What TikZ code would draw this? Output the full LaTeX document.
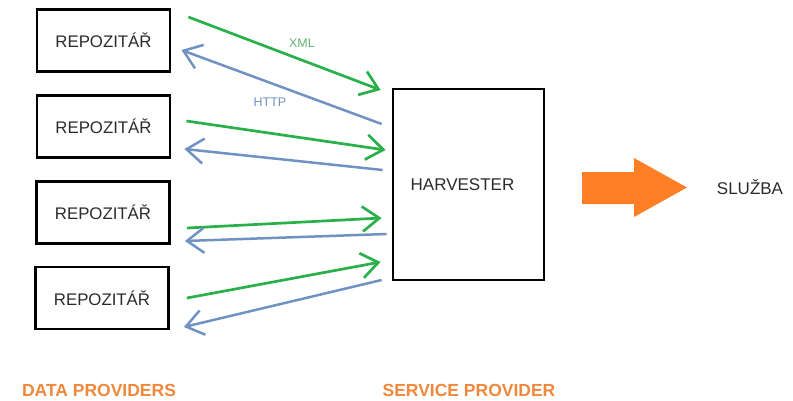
\documentclass[tikz,border=0pt]{standalone}
\usepackage{fontspec}
\setmainfont{Liberation Sans}
\usetikzlibrary{arrows.meta}
\definecolor{grn}{HTML}{2AB04A}
\definecolor{blu}{HTML}{7092C2}
\definecolor{org}{HTML}{FF7F27}
\definecolor{lorg}{HTML}{F0883C}
\definecolor{txt}{HTML}{2B2B2B}
\tikzset{
  repo/.style={draw=black, line width=2.8pt, minimum width=133pt, minimum height=62pt, inner sep=0pt, text=txt, font=\fontsize{16.8}{19}\selectfont},
  harv/.style={draw=black, line width=2.8pt, minimum width=151pt, minimum height=191pt, inner sep=0pt, text=txt, font=\fontsize{17}{19}\selectfont},
  garrow/.style={draw=grn, line width=2.7pt, -{Straight Barb[length=17pt,width=25pt]}},
  barrow/.style={draw=blu, line width=2.5pt, -{Straight Barb[length=17pt,width=25pt]}},
  biglabel/.style={text=lorg, font=\bfseries\fontsize{17.5}{19}\selectfont},
  small/.style={font=\fontsize{12.5}{14}\selectfont}
}
\begin{document}
\begin{tikzpicture}[x=1pt,y=-1pt]
\useasboundingbox (0,0) rectangle (793,400);
\node[repo] (r1) at (103.5,40.5) {REPOZITÁŘ};
\node[repo] (r2) at (103.5,126.5) {REPOZITÁŘ};
\node[repo] (r3) at (103,212.5) {REPOZITÁŘ};
\node[repo] (r4) at (102,298) {REPOZITÁŘ};
\node[harv] (h) at (468.5,184.5) {HARVESTER\hspace*{12pt}};
% arrows
\draw[garrow] ([shift={(17,-23.5)}]r1.east) -- ([shift={(-11,-94.5)}]h.west);
\draw[barrow] ([shift={(-10,-60.5)}]h.west) -- ([shift={(10,9.5)}]r1.east);
\draw[garrow] ([shift={(15,-5.5)}]r2.east) -- ([shift={(-6,-34.5)}]h.west);
\draw[barrow] ([shift={(-9,-14.5)}]h.west) -- ([shift={(13,22.5)}]r2.east);
\draw[garrow] ([shift={(16,15.5)}]r3.east) -- ([shift={(-10,33.5)}]h.west);
\draw[barrow] ([shift={(-5,49.5)}]h.west) -- ([shift={(14,28.5)}]r3.east);
\draw[garrow] ([shift={(17,0)}]r4.east) -- ([shift={(-11,77.5)}]h.west);
\draw[barrow] ([shift={(-10,95.5)}]h.west) -- ([shift={(14,29)}]r4.east);
\node[small, text=grn!80!black!70] (xml) at (302,43) {XML};
\node[small, text=blu] (http) at (270,102) {HTTP};
% big arrow
\fill[org] (582,172) -- (634,172) -- (634,158) -- (687,187.5) -- (634,217) -- (634,204) -- (582,204) -- cycle;
\node[text=txt, font=\fontsize{17}{19}\selectfont] (sl) at (750,187) {SLUŽBA};
\node[biglabel] (dp) at (99,390) {DATA PROVIDERS};
\node[biglabel] (sp) at (469,390) {SERVICE PROVIDER};
\end{tikzpicture}
\end{document}
